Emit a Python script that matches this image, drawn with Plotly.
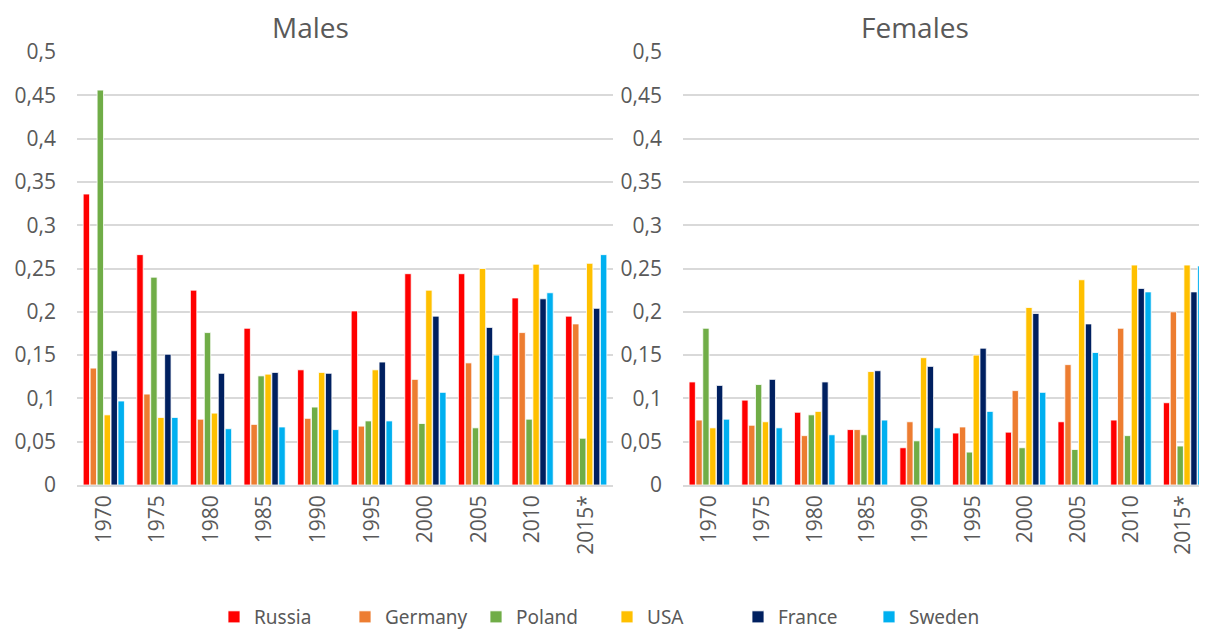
import plotly.graph_objects as go

years = ["1970", "1975", "1980", "1985", "1990", "1995", "2000", "2005", "2010", "2015*"]
countries = ["Russia", "Germany", "Poland", "USA", "France", "Sweden"]
colors = ["#ff0000", "#ed7d31", "#70ad47", "#ffc000", "#002060", "#00b0f0"]

males_russia = [0.336, 0.266, 0.225, 0.181, 0.133, 0.201, 0.244, 0.244, 0.216, 0.195]
males_germany = [0.135, 0.105, 0.076, 0.070, 0.077, 0.068, 0.122, 0.141, 0.176, 0.186]
males_poland = [0.456, 0.240, 0.176, 0.126, 0.090, 0.074, 0.071, 0.066, 0.076, 0.054]
males_usa = [0.081, 0.078, 0.083, 0.128, 0.130, 0.133, 0.225, 0.250, 0.255, 0.256]
males_france = [0.155, 0.151, 0.129, 0.130, 0.129, 0.142, 0.195, 0.182, 0.215, 0.204]
males_sweden = [0.097, 0.078, 0.065, 0.067, 0.064, 0.074, 0.107, 0.150, 0.222, 0.266]

females_russia = [0.119, 0.098, 0.084, 0.064, 0.043, 0.060, 0.061, 0.073, 0.075, 0.095]
females_germany = [0.075, 0.069, 0.057, 0.064, 0.073, 0.067, 0.109, 0.139, 0.181, 0.200]
females_poland = [0.181, 0.116, 0.081, 0.058, 0.051, 0.038, 0.043, 0.041, 0.057, 0.045]
females_usa = [0.066, 0.073, 0.085, 0.131, 0.147, 0.150, 0.205, 0.237, 0.254, 0.254]
females_france = [0.115, 0.122, 0.119, 0.132, 0.137, 0.158, 0.198, 0.186, 0.227, 0.223]
females_sweden = [0.076, 0.066, 0.058, 0.075, 0.066, 0.085, 0.107, 0.153, 0.223, 0.253]

y_ticks = [0, 0.05, 0.1, 0.15, 0.2, 0.25, 0.3, 0.35, 0.4, 0.45, 0.5]
y_ticktext = ["0", "0,05", "0,1", "0,15", "0,2", "0,25", "0,3", "0,35", "0,4", "0,45", "0,5"]

males = [males_russia, males_germany, males_poland, males_usa, males_france, males_sweden]
females = [females_russia, females_germany, females_poland, females_usa, females_france, females_sweden]

fig = go.Figure()
for i, c in enumerate(countries):
    fig.add_trace(go.Bar(x=years, y=males[i], name=c, marker_color=colors[i],
                         marker_line=dict(color="white", width=0.8),
                         xaxis="x", yaxis="y", legendgroup=c, showlegend=True))
for i, c in enumerate(countries):
    fig.add_trace(go.Bar(x=years, y=females[i], name=c, marker_color=colors[i],
                         marker_line=dict(color="white", width=0.8),
                         xaxis="x2", yaxis="y2", legendgroup=c, showlegend=False))

W, H = 1207, 632
OFF = 8  # page body margin offset
tickfont = dict(family="Open Sans, sans-serif", size=21, color="#595959")
ydom = [(H - (485 - OFF)) / H, (H - (52 - OFF)) / H]

common_y = dict(range=[0, 0.5], tickvals=y_ticks, ticktext=y_ticktext, tickfont=tickfont,
                showgrid=True, gridcolor="#d9d9d9", gridwidth=1.5, zeroline=False,
                showline=False, domain=ydom, ticks="", ticklabelstandoff=20, automargin=False)
common_x = dict(type="category", tickfont=tickfont, tickangle=-90, showgrid=False,
                showline=True, linecolor="#d9d9d9", linewidth=1.5, ticks="", automargin=False)

fig.update_layout(
    width=W, height=H,
    paper_bgcolor="white", plot_bgcolor="white",
    margin=dict(l=0, r=0, t=0, b=0, autoexpand=False),
    barmode="group", bargap=0.22, bargroupgap=0.08,
    xaxis=dict(domain=[(77 - OFF) / W, (613 - OFF) / W], range=[-0.5, 9.5], **common_x),
    xaxis2=dict(domain=[(683 - OFF) / W, (1210 - OFF) / W], range=[-0.5, 9.5], anchor="y2", **common_x),
    yaxis=dict(anchor="x", **common_y),
    yaxis2=dict(anchor="x2", **common_y),
    legend=dict(orientation="h", x=599 / W, xanchor="center", y=(H - (617 - OFF)) / H, yanchor="middle",
                font=dict(family="Noto Sans, sans-serif", size=19, color="#595959"),
                entrywidth=86, entrywidthmode="pixels", itemwidth=30, traceorder="normal"),
    annotations=[
        dict(text="Males", x=(310 - OFF) / W, y=(H - (27 - OFF)) / H, xref="paper", yref="paper",
             showarrow=False, font=dict(family="Open Sans, sans-serif", size=28, color="#595959"),
             xanchor="center", yanchor="middle"),
        dict(text="Females", x=(915 - OFF) / W, y=(H - (27 - OFF)) / H, xref="paper", yref="paper",
             showarrow=False, font=dict(family="Open Sans, sans-serif", size=28, color="#595959"),
             xanchor="center", yanchor="middle"),
    ],
)

fig.write_html("out.html")
